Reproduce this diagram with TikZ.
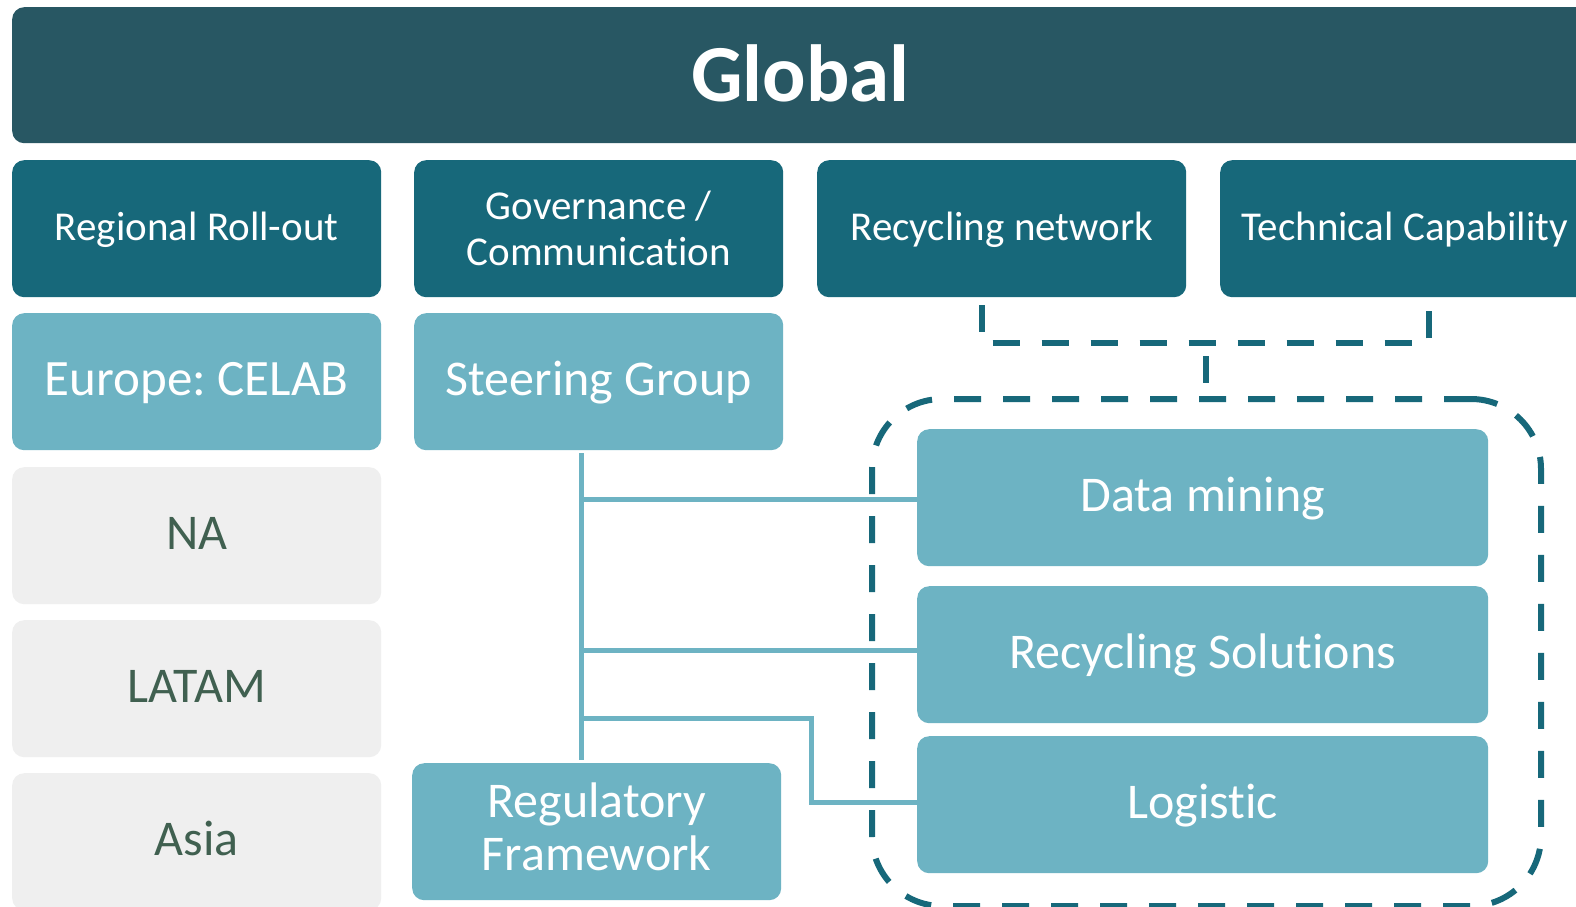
\documentclass[tikz,border=0pt]{standalone}
\usepackage{fontspec}
\setmainfont{Carlito}[Ligatures={NoCommon,NoRare}]
\frenchspacing
\definecolor{globalc}{RGB}{40,87,99}
\definecolor{darkc}{RGB}{23,104,122}
\definecolor{lightc}{RGB}{109,179,195}
\definecolor{grayc}{RGB}{239,239,239}
\definecolor{greentxt}{RGB}{64,96,80}
\begin{document}
\begin{tikzpicture}[x=1pt,y=-1pt,
  box/.style={rectangle, rounded corners=12pt, minimum width=369pt, minimum height=137pt,
    inner sep=0pt, anchor=north west, align=center, text=white},
  hdr/.style={box, fill=darkc, font=\fontsize{41}{47}\selectfont},
  hdrone/.style={hdr, text height=31pt, text depth=8pt},
  lbox/.style={box, fill=lightc, font=\fontsize{50}{53}\selectfont},
  lboxone/.style={lbox, text height=37pt, text depth=10pt},
  gbox/.style={box, fill=grayc, text=greentxt, font=\fontsize{50}{53}\selectfont, text height=37pt, text depth=10pt},
  wbox/.style={lboxone, minimum width=571pt},
  conn/.style={draw=lightc, line width=5pt},
  dashline/.style={draw=darkc, line width=6pt, dash pattern=on 27pt off 22pt}
]
\useasboundingbox (0,0) rectangle (1576,907);
\fill[white] (0,0) rectangle (1576,907);

% global bar
\node[box, fill=globalc, minimum width=1576pt, minimum height=136pt,
  font=\fontsize{81}{90}\selectfont\bfseries, text height=57pt, text depth=4pt] (glob) at (12,7) {Global};

% header row
\node[hdrone] (rr) at (12,160) {Regional Roll-out};
\node[hdr] (gov) at (414,160) {Governance /\\[-1pt]Communication};
\node[hdrone] (rn) at (817,160) {Recycling network};
\node[hdrone] (tc) at (1220,160) {Technical Capability};

% left column
\node[lboxone, font=\fontsize{51}{53}\selectfont] (eu) at (12,313) {Europe: CELAB};
\node[gbox] (na) at (12,467) {NA};
\node[gbox] (la) at (12,620) {LATAM};
\node[gbox] (as) at (12,773) {Asia};

% second column
\node[lboxone] (sg) at (414,313) {Steering Group};
\node[lbox] (reg) at (412,763) {Regulatory\\Framework\rule[-10pt]{0pt}{0pt}};

% right group
\node[wbox] (dm) at (917,429) {Data mining};
\node[wbox] (rs) at (917,586) {Recycling Solutions};
\node[wbox] (lg) at (917,736) {Logistic};

% connectors
\coordinate (tx) at (581,0);
\coordinate (bend) at (811,718);
\draw[conn] ([yshift=-3pt]sg.south -| tx) -- ([yshift=3pt]reg.north -| tx);
\draw[conn] ([yshift=-2pt]dm.west -| tx) -- ([yshift=-2pt]dm.west);
\draw[conn] ([yshift=4pt]rs.west -| tx) -- ([yshift=4pt]rs.west);
\draw[conn] (bend -| tx) -- (bend) -- ([yshift=2pt]lg.west -| bend) -- ([yshift=2pt]lg.west);

% dashed group frame
\node[dashline, rectangle, rounded corners=70pt, minimum width=669pt, minimum height=507pt,
  inner sep=0pt, anchor=north west] (grp) at (869,396) {};

% dashed bracket
\draw[dashline] ([xshift=-20pt,yshift=-8pt]rn.south) -- ([xshift=-20pt,yshift=-46pt]rn.south)
  -- ([xshift=24pt,yshift=-46pt]tc.south) -- ([xshift=24pt,yshift=-8pt]tc.south);
\coordinate (bm) at (1206,343);
\draw[dashline, dash phase=36pt] (bm) -- (bm |- grp.north);
\end{tikzpicture}
\end{document}
